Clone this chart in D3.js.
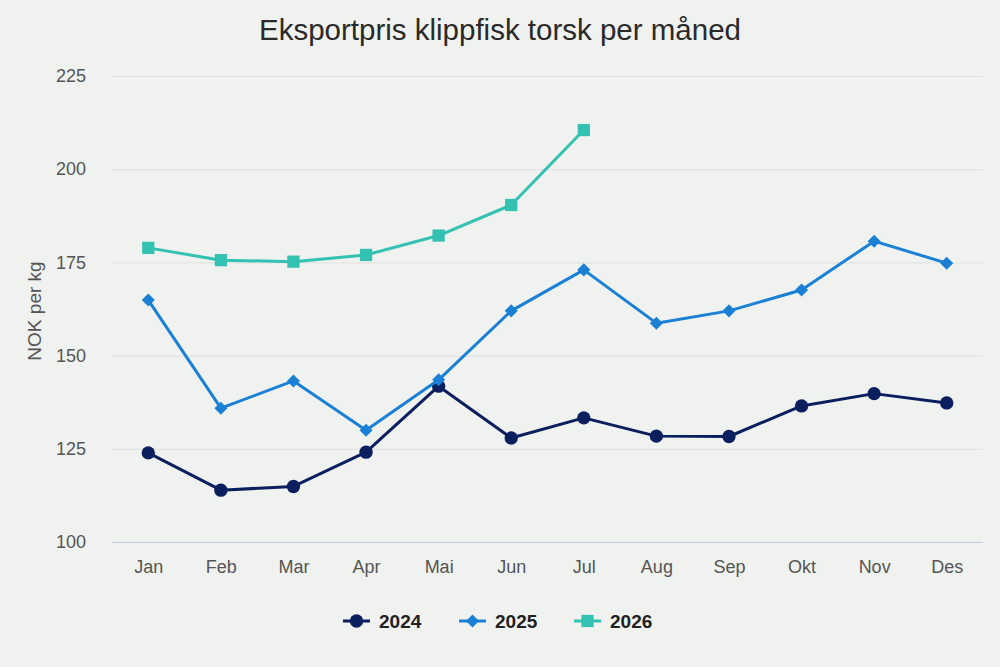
<!DOCTYPE html>
<html><head><meta charset="utf-8">
<script src="https://cdn.jsdelivr.net/npm/d3@7/dist/d3.min.js"></script>
<style>
html,body{margin:0;padding:0;background:#f0f2ef;}
svg{display:block;font-family:"Liberation Sans",Arial,sans-serif;}
</style></head><body>
<svg id="c" width="1000" height="667"></svg>
<script>
const months = ["Jan","Feb","Mar","Apr","Mai","Jun","Jul","Aug","Sep","Okt","Nov","Des"];
const yTicks = [100,125,150,175,200,225];
const s2024 = [123.9,113.9,114.9,124.1,141.8,127.9,133.3,128.4,128.3,136.5,139.8,137.3];
const s2025 = [164.9,135.9,143.2,130.0,143.5,162.0,173.0,158.7,162.0,167.6,180.7,174.8];
const s2026 = [178.9,175.6,175.2,177.0,182.2,190.4,210.5];
const seriesNames = ["2024","2025","2026"];
const seriesColors = ["#0b1f5e","#1a80d6","#33c1b1"];
const seriesSymbols = [d3.symbolCircle, d3.symbolSquare, d3.symbolSquare];
const seriesRot = [0, 45, 0];
const seriesSizes = [140, 85, 150];
const seriesData = [s2024, s2025, s2026];

const svg = d3.select("#c");
const W = 1000, H = 667;
const m = {l:112, r:17, t:76, b:125};
const x = d3.scalePoint().domain(months).range([m.l, W-m.r]).padding(0.5);
const y = d3.scaleLinear().domain([100,225]).range([H-m.b, m.t]);

svg.append("rect").attr("width",W).attr("height",H).attr("fill","#f0f2ef");

svg.append("text").attr("x",500).attr("y",40).attr("text-anchor","middle")
  .attr("font-size",29.5).attr("fill","#2a2a2a").text("Eksportpris klippfisk torsk per måned");

const gy = svg.append("g").attr("transform",`translate(${m.l},0)`)
  .call(d3.axisLeft(y).tickValues(yTicks).tickSize(-(W-m.l-m.r)).tickPadding(26));
gy.select(".domain").remove();
gy.selectAll(".tick line").attr("stroke","#dfe1df").attr("stroke-width",1)
  .filter(d=>d===100).attr("stroke","#c7cce6");
gy.selectAll(".tick text").attr("font-size",18).attr("fill","#555").attr("font-family","Liberation Sans, Arial, sans-serif");

const gx = svg.append("g").attr("transform",`translate(0,${H-m.b})`)
  .call(d3.axisBottom(x).tickSize(0).tickPadding(18));
gx.select(".domain").remove();
gx.selectAll(".tick text").attr("font-size",18).attr("fill","#555").attr("font-family","Liberation Sans, Arial, sans-serif");

svg.append("text").attr("transform",`translate(41,${(m.t+H-m.b)/2+2}) rotate(-90)`)
  .attr("text-anchor","middle").attr("font-size",19).attr("fill","#555").text("NOK per kg");

const line = d3.line().x((d,i)=>x(months[i])).y(d=>y(d));
seriesData.forEach((data,k)=>{
  const g = svg.append("g");
  g.append("path").datum(data).attr("d",line).attr("fill","none")
    .attr("stroke",seriesColors[k]).attr("stroke-width",3).attr("stroke-linejoin","round");
  g.selectAll("path.pt").data(data).enter().append("path").attr("class","pt")
    .attr("transform",(d,i)=>`translate(${x(months[i])},${y(d)}) rotate(${seriesRot[k]})`)
    .attr("d",d3.symbol().type(seriesSymbols[k]).size(seriesSizes[k]))
    .attr("fill",seriesColors[k]);
});

const legX = [343, 459, 574];
seriesNames.forEach((n,k)=>{
  const g = svg.append("g").attr("transform",`translate(${legX[k]},621)`);
  g.append("line").attr("x1",0).attr("x2",27).attr("stroke",seriesColors[k]).attr("stroke-width",3);
  g.append("path").attr("transform",`translate(13.5,0) rotate(${seriesRot[k]})`)
    .attr("d",d3.symbol().type(seriesSymbols[k]).size(seriesSizes[k])).attr("fill",seriesColors[k]);
  g.append("text").attr("x",36).attr("y",7).attr("font-size",19).attr("font-weight","bold")
    .attr("fill","#222").text(n);
});
</script>
</body></html>
